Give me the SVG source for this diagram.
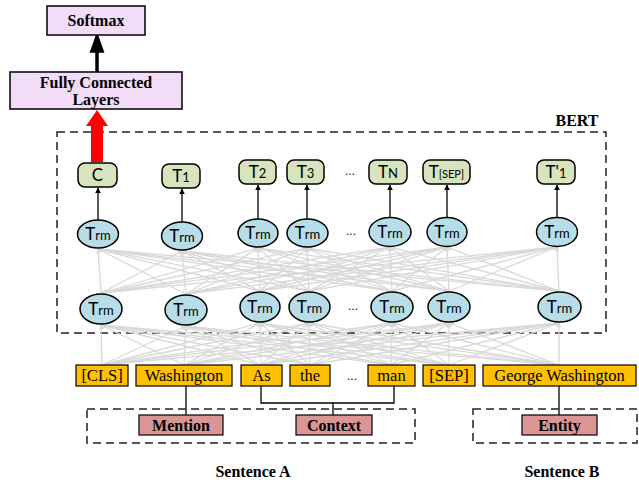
<svg xmlns="http://www.w3.org/2000/svg" width="639" height="483" viewBox="0 0 639 483">
<style>
.pb{fill:#f2dcf8;stroke:#000;stroke-width:1.5}
.tb{font-family:"Liberation Serif","Times New Roman",serif;font-weight:bold;font-size:16px;text-anchor:middle}
.tok{fill:#ffc000;stroke:#000;stroke-width:1.2}
.tt{font-family:"Liberation Serif","Times New Roman",serif;font-size:16.5px;text-anchor:middle}
.out{fill:#d7e4bd;stroke:#000;stroke-width:1.5}
.trm{fill:#b7dde8;stroke:#000;stroke-width:1.5}
.st{font-family:"Lato","Open Sans",sans-serif;font-size:17px;text-anchor:middle}
.sm{font-size:13px}
.rose{fill:#d99694;stroke:#000;stroke-width:1.2}
.dash{fill:none;stroke:#222;stroke-width:1.5;stroke-dasharray:8,5}
.mesh line{stroke:#d9d9d9;stroke-width:1.3;marker-end:url(#ga)}
.blk line{stroke:#000;stroke-width:1.3;marker-end:url(#ba)}
.br{fill:none;stroke:#000;stroke-width:1.3}
.dots{font-family:"Liberation Sans",sans-serif;font-size:12px;text-anchor:middle}
</style>
<defs>
<marker id="ga" viewBox="0 0 10 10" refX="9" refY="5" markerWidth="5" markerHeight="5" markerUnits="userSpaceOnUse" orient="auto"><path d="M0,0 L10,5 L0,10 z" fill="#d9d9d9"/></marker>
<marker id="ba" viewBox="0 0 10 10" refX="9" refY="5" markerWidth="6" markerHeight="6" markerUnits="userSpaceOnUse" orient="auto"><path d="M0,0 L10,5 L0,10 z" fill="#000"/></marker>
</defs>

<g id="bert-box">
<rect class="dash" x="57" y="132" width="549" height="201"/>
<text x="577" y="126" class="tb" font-size="17.5">BERT</text>
</g>

<g id="connectors">
<g class="mesh">
<line x1="101" y1="293" x2="98" y2="249"/><line x1="101" y1="293" x2="182" y2="251"/><line x1="101" y1="293" x2="258" y2="248"/><line x1="101" y1="293" x2="307" y2="248"/><line x1="101" y1="293" x2="390" y2="247"/><line x1="101" y1="293" x2="447" y2="247"/><line x1="101" y1="293" x2="557" y2="247"/>
<line x1="186" y1="294" x2="98" y2="249"/><line x1="186" y1="294" x2="182" y2="251"/><line x1="186" y1="294" x2="258" y2="248"/><line x1="186" y1="294" x2="307" y2="248"/><line x1="186" y1="294" x2="390" y2="247"/><line x1="186" y1="294" x2="447" y2="247"/><line x1="186" y1="294" x2="557" y2="247"/>
<line x1="260" y1="291" x2="98" y2="249"/><line x1="260" y1="291" x2="182" y2="251"/><line x1="260" y1="291" x2="258" y2="248"/><line x1="260" y1="291" x2="307" y2="248"/><line x1="260" y1="291" x2="390" y2="247"/><line x1="260" y1="291" x2="447" y2="247"/><line x1="260" y1="291" x2="557" y2="247"/>
<line x1="309" y1="291" x2="98" y2="249"/><line x1="309" y1="291" x2="182" y2="251"/><line x1="309" y1="291" x2="258" y2="248"/><line x1="309" y1="291" x2="307" y2="248"/><line x1="309" y1="291" x2="390" y2="247"/><line x1="309" y1="291" x2="447" y2="247"/><line x1="309" y1="291" x2="557" y2="247"/>
<line x1="392" y1="291" x2="98" y2="249"/><line x1="392" y1="291" x2="182" y2="251"/><line x1="392" y1="291" x2="258" y2="248"/><line x1="392" y1="291" x2="307" y2="248"/><line x1="392" y1="291" x2="390" y2="247"/><line x1="392" y1="291" x2="447" y2="247"/><line x1="392" y1="291" x2="557" y2="247"/>
<line x1="449" y1="291" x2="98" y2="249"/><line x1="449" y1="291" x2="182" y2="251"/><line x1="449" y1="291" x2="258" y2="248"/><line x1="449" y1="291" x2="307" y2="248"/><line x1="449" y1="291" x2="390" y2="247"/><line x1="449" y1="291" x2="447" y2="247"/><line x1="449" y1="291" x2="557" y2="247"/>
<line x1="559" y1="291" x2="98" y2="249"/><line x1="559" y1="291" x2="182" y2="251"/><line x1="559" y1="291" x2="258" y2="248"/><line x1="559" y1="291" x2="307" y2="248"/><line x1="559" y1="291" x2="390" y2="247"/><line x1="559" y1="291" x2="447" y2="247"/><line x1="559" y1="291" x2="557" y2="247"/>
<line x1="102" y1="365" x2="101" y2="325"/><line x1="102" y1="365" x2="186" y2="326"/><line x1="102" y1="365" x2="260" y2="323"/><line x1="102" y1="365" x2="309" y2="323"/><line x1="102" y1="365" x2="392" y2="323"/><line x1="102" y1="365" x2="449" y2="323"/><line x1="102" y1="365" x2="559" y2="323"/>
<line x1="184" y1="365" x2="101" y2="325"/><line x1="184" y1="365" x2="186" y2="326"/><line x1="184" y1="365" x2="260" y2="323"/><line x1="184" y1="365" x2="309" y2="323"/><line x1="184" y1="365" x2="392" y2="323"/><line x1="184" y1="365" x2="449" y2="323"/><line x1="184" y1="365" x2="559" y2="323"/>
<line x1="261" y1="365" x2="101" y2="325"/><line x1="261" y1="365" x2="186" y2="326"/><line x1="261" y1="365" x2="260" y2="323"/><line x1="261" y1="365" x2="309" y2="323"/><line x1="261" y1="365" x2="392" y2="323"/><line x1="261" y1="365" x2="449" y2="323"/><line x1="261" y1="365" x2="559" y2="323"/>
<line x1="310" y1="365" x2="101" y2="325"/><line x1="310" y1="365" x2="186" y2="326"/><line x1="310" y1="365" x2="260" y2="323"/><line x1="310" y1="365" x2="309" y2="323"/><line x1="310" y1="365" x2="392" y2="323"/><line x1="310" y1="365" x2="449" y2="323"/><line x1="310" y1="365" x2="559" y2="323"/>
<line x1="391" y1="365" x2="101" y2="325"/><line x1="391" y1="365" x2="186" y2="326"/><line x1="391" y1="365" x2="260" y2="323"/><line x1="391" y1="365" x2="309" y2="323"/><line x1="391" y1="365" x2="392" y2="323"/><line x1="391" y1="365" x2="449" y2="323"/><line x1="391" y1="365" x2="559" y2="323"/>
<line x1="449" y1="365" x2="101" y2="325"/><line x1="449" y1="365" x2="186" y2="326"/><line x1="449" y1="365" x2="260" y2="323"/><line x1="449" y1="365" x2="309" y2="323"/><line x1="449" y1="365" x2="392" y2="323"/><line x1="449" y1="365" x2="449" y2="323"/><line x1="449" y1="365" x2="559" y2="323"/>
<line x1="559" y1="365" x2="101" y2="325"/><line x1="559" y1="365" x2="186" y2="326"/><line x1="559" y1="365" x2="260" y2="323"/><line x1="559" y1="365" x2="309" y2="323"/><line x1="559" y1="365" x2="392" y2="323"/><line x1="559" y1="365" x2="449" y2="323"/><line x1="559" y1="365" x2="559" y2="323"/>
</g>
<g class="blk">
<line x1="98" y1="220" x2="98" y2="188"/>
<line x1="182" y1="222" x2="182" y2="189"/>
<line x1="258" y1="219" x2="258" y2="185"/>
<line x1="307" y1="219" x2="307" y2="185"/>
<line x1="390" y1="218" x2="390" y2="185"/>
<line x1="447" y1="218" x2="447" y2="185"/>
<line x1="557" y1="218" x2="557" y2="185"/>
</g>
<path d="M97,72 L97,50 M92,51 L97,37 L102,51 z" fill="#000" stroke="#000" stroke-width="3.5"/>
<path d="M91,162 L91,126 L86,126 L97,110 L108,126 L103,126 L103,162 z" fill="#ff0000"/>
<path class="br" d="M261,386 L261,403 L394,403 L394,386 M333,403 L333,415"/>
<path class="br" d="M186,386 L186,415"/>
<path class="br" d="M559,386 L559,415"/>
</g>

<g id="softmax"><rect class="pb" x="47" y="6" width="98" height="29"/><text class="tb" x="96" y="26" font-size="17">Softmax</text></g>
<g id="fc"><rect class="pb" x="10" y="72" width="172" height="37"/><text class="tb" x="96" y="88" font-size="17">Fully Connected</text><text class="tb" x="96" y="105" font-size="17">Layers</text></g>

<g id="out-c"><rect class="out" x="78" y="163" width="39" height="24" rx="7"/><text class="st" x="97.5" y="181">C</text></g>
<g id="out-t1"><rect class="out" x="162" y="164" width="38" height="24" rx="7"/><text class="st" x="181" y="182">T<tspan class="sm">1</tspan></text></g>
<g id="out-t2"><rect class="out" x="239" y="160" width="37" height="24" rx="7"/><text class="st" x="257.5" y="178">T<tspan class="sm">2</tspan></text></g>
<g id="out-t3"><rect class="out" x="287" y="160" width="37" height="24" rx="7"/><text class="st" x="305.5" y="178">T<tspan class="sm">3</tspan></text></g>
<g id="out-tn"><rect class="out" x="369" y="160" width="38" height="24" rx="7"/><text class="st" x="388" y="178">T<tspan class="sm">N</tspan></text></g>
<g id="out-tsep"><rect class="out" x="423" y="160" width="47" height="24" rx="7"/><text class="st" x="446.5" y="178">T<tspan font-size="11">[SEP]</tspan></text></g>
<g id="out-t1p"><rect class="out" x="537" y="160" width="38" height="24" rx="7"/><text class="st" x="556" y="178">T'<tspan class="sm">1</tspan></text></g>
<text class="dots" x="350" y="175">...</text>

<g id="u1"><ellipse class="trm" cx="98" cy="234" rx="20.5" ry="14"/><text class="st" x="98" y="240">T<tspan class="sm">rm</tspan></text></g>
<g id="u2"><ellipse class="trm" cx="182" cy="236" rx="20.5" ry="14"/><text class="st" x="182" y="242">T<tspan class="sm">rm</tspan></text></g>
<g id="u3"><ellipse class="trm" cx="258" cy="233" rx="20" ry="14"/><text class="st" x="258" y="239">T<tspan class="sm">rm</tspan></text></g>
<g id="u4"><ellipse class="trm" cx="307.5" cy="233" rx="20.5" ry="14"/><text class="st" x="307.5" y="239">T<tspan class="sm">rm</tspan></text></g>
<g id="u5"><ellipse class="trm" cx="390" cy="232" rx="21" ry="14.5"/><text class="st" x="390" y="238">T<tspan class="sm">rm</tspan></text></g>
<g id="u6"><ellipse class="trm" cx="447" cy="232" rx="20" ry="14.5"/><text class="st" x="447" y="238">T<tspan class="sm">rm</tspan></text></g>
<g id="u7"><ellipse class="trm" cx="557" cy="232" rx="20.5" ry="14.5"/><text class="st" x="557" y="238">T<tspan class="sm">rm</tspan></text></g>
<text class="dots" x="351" y="235">...</text>

<g id="l1"><ellipse class="trm" cx="101" cy="309" rx="21" ry="15"/><text class="st" x="101" y="315">T<tspan class="sm">rm</tspan></text></g>
<g id="l2"><ellipse class="trm" cx="186" cy="310" rx="21" ry="15"/><text class="st" x="186" y="316">T<tspan class="sm">rm</tspan></text></g>
<g id="l3"><ellipse class="trm" cx="260" cy="307" rx="20" ry="15"/><text class="st" x="260" y="313">T<tspan class="sm">rm</tspan></text></g>
<g id="l4"><ellipse class="trm" cx="309.5" cy="307" rx="20.5" ry="15"/><text class="st" x="309.5" y="313">T<tspan class="sm">rm</tspan></text></g>
<g id="l5"><ellipse class="trm" cx="392" cy="307" rx="21" ry="15"/><text class="st" x="392" y="313">T<tspan class="sm">rm</tspan></text></g>
<g id="l6"><ellipse class="trm" cx="449" cy="307" rx="21" ry="15"/><text class="st" x="449" y="313">T<tspan class="sm">rm</tspan></text></g>
<g id="l7"><ellipse class="trm" cx="559.5" cy="307" rx="21.5" ry="15"/><text class="st" x="559.5" y="313">T<tspan class="sm">rm</tspan></text></g>
<text class="dots" x="353" y="310">...</text>

<g id="tok-cls"><rect class="tok" x="76" y="365" width="52" height="21"/><text class="tt" x="102" y="381" font-family="Lato,sans-serif" font-size="15">[CLS]</text></g>
<g id="tok-washington"><rect class="tok" x="136" y="365" width="96" height="21"/><text class="tt" x="184" y="381">Washington</text></g>
<g id="tok-as"><rect class="tok" x="241" y="365" width="41" height="21"/><text class="tt" x="261.5" y="381">As</text></g>
<g id="tok-the"><rect class="tok" x="290" y="365" width="40" height="21"/><text class="tt" x="310" y="381">the</text></g>
<text class="dots" x="352" y="380">...</text>
<g id="tok-man"><rect class="tok" x="368" y="365" width="47" height="21"/><text class="tt" x="391.5" y="381">man</text></g>
<g id="tok-sep"><rect class="tok" x="423" y="365" width="52" height="21"/><text class="tt" x="449" y="381" font-family="Lato,sans-serif" font-size="15">[SEP]</text></g>
<g id="tok-gw"><rect class="tok" x="483" y="365" width="153" height="21"/><text class="tt" x="559.5" y="381">George Washington</text></g>

<g id="sentence-a">
<rect class="dash" x="87" y="409" width="328" height="34"/>
<text class="tb" x="253" y="477" font-size="18">Sentence A</text>
</g>
<g id="mention"><rect class="rose" x="139" y="415" width="84" height="20"/><text class="tb" x="181" y="431">Mention</text></g>
<g id="context"><rect class="rose" x="296" y="415" width="76" height="20"/><text class="tb" x="334" y="431">Context</text></g>
<g id="sentence-b">
<rect class="dash" x="473" y="409" width="164" height="34"/>
<text class="tb" x="562" y="477" font-size="18">Sentence B</text>
</g>
<g id="entity"><rect class="rose" x="522" y="415" width="75" height="20"/><text class="tb" x="559.5" y="431">Entity</text></g>
</svg>
